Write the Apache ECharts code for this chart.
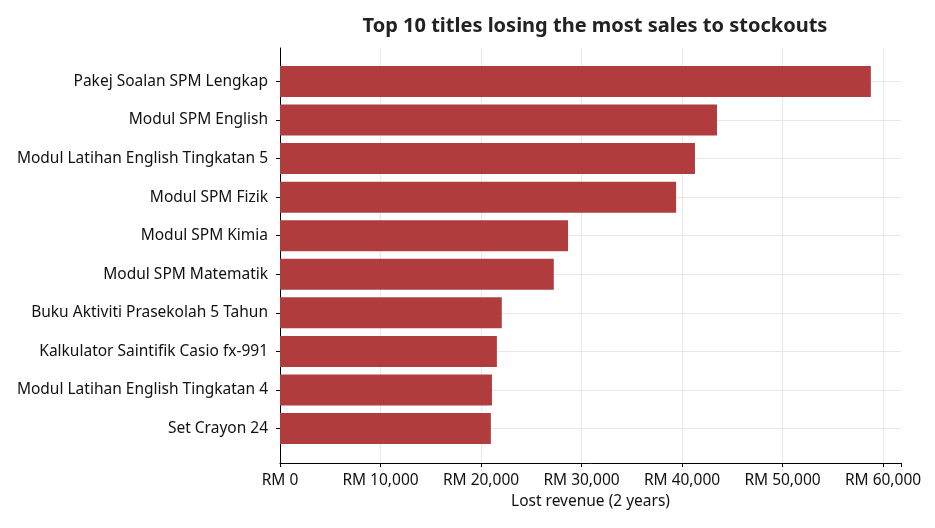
<!DOCTYPE html>
<html>
<head>
<meta charset="utf-8">
<script src="https://cdn.jsdelivr.net/npm/echarts@6/dist/echarts.min.js"></script>
<style>
  html, body { margin: 0; padding: 0; background: #ffffff; }
  #chart { width: 935px; height: 528px; }
</style>
</head>
<body>
<div id="chart"></div>
<script>
const titleText = 'Top 10 titles losing the most sales to stockouts';
const xAxisName = 'Lost revenue (2 years)';
const categories = [
  'Pakej Soalan SPM Lengkap',
  'Modul SPM English',
  'Modul Latihan English Tingkatan 5',
  'Modul SPM Fizik',
  'Modul SPM Kimia',
  'Modul SPM Matematik',
  'Buku Aktiviti Prasekolah 5 Tahun',
  'Kalkulator Saintifik Casio fx-991',
  'Modul Latihan English Tingkatan 4',
  'Set Crayon 24'
];
const lostRevenue = [58790, 43480, 41290, 39410, 28660, 27240, 22070, 21580, 21090, 20980];
const xTicks = [0, 10000, 20000, 30000, 40000, 50000, 60000];

const FONT = 'Noto Sans';
const chart = echarts.init(document.getElementById('chart'), null, { renderer: 'canvas' });

const xMax = 61790;
function rm(v) { return 'RM ' + Math.round(v).toLocaleString('en-US'); }

chart.setOption({
  backgroundColor: '#ffffff',
  animation: false,
  textStyle: { fontFamily: FONT },
  title: {
    text: titleText,
    left: 590, textAlign: 'center', top: 11,
    textStyle: { fontFamily: FONT, fontSize: 20, fontWeight: 'bold', color: '#222222' }
  },
  grid: [
    { left: 280, right: 34, top: 48, bottom: 65, containLabel: false },
    { left: 280, right: 34, top: 81.5, bottom: 99.5, containLabel: false }
  ],
  xAxis: [
    {
      gridIndex: 0, type: 'value', min: 0, max: xMax, interval: 10000,
      axisLine: { show: true, lineStyle: { color: '#000000', width: 1 } },
      axisTick: { show: true, length: 4, lineStyle: { color: '#000000' } },
      axisLabel: {
        fontFamily: FONT, fontSize: 15.5, color: '#111111', margin: 10,
        formatter: function (v) { return xTicks.indexOf(v) >= 0 ? rm(v) : ''; }
      },
      splitLine: { show: true, showMaxLine: false, lineStyle: { color: '#e8e8e8', width: 1 } },
      name: xAxisName, nameLocation: 'middle', nameGap: 31,
      nameTextStyle: { fontFamily: FONT, fontSize: 15.5, color: '#111111' }
    },
    {
      gridIndex: 1, type: 'value', min: 0, max: xMax, show: false
    }
  ],
  yAxis: [
    {
      gridIndex: 0, type: 'value', min: 0, max: 1,
      axisLine: { show: true, lineStyle: { color: '#000000', width: 1 } },
      axisTick: { show: false }, axisLabel: { show: false }, splitLine: { show: false }
    },
    {
      gridIndex: 1, type: 'category', data: categories, inverse: true, boundaryGap: false,
      axisLine: { show: false },
      axisTick: { show: true, length: 4, lineStyle: { color: '#000000' } },
      axisLabel: { fontFamily: FONT, fontSize: 15.5, color: '#111111', margin: 12, interval: 0, padding: [2, 0, 0, 0] },
      splitLine: { show: true, lineStyle: { color: '#e8e8e8', width: 1 } }
    }
  ],
  series: [
    {
      type: 'bar', xAxisIndex: 1, yAxisIndex: 1,
      data: lostRevenue, barWidth: 31, clip: false,
      itemStyle: { color: '#b03c3e' },
      silent: true
    }
  ]
});
</script>
</body>
</html>
